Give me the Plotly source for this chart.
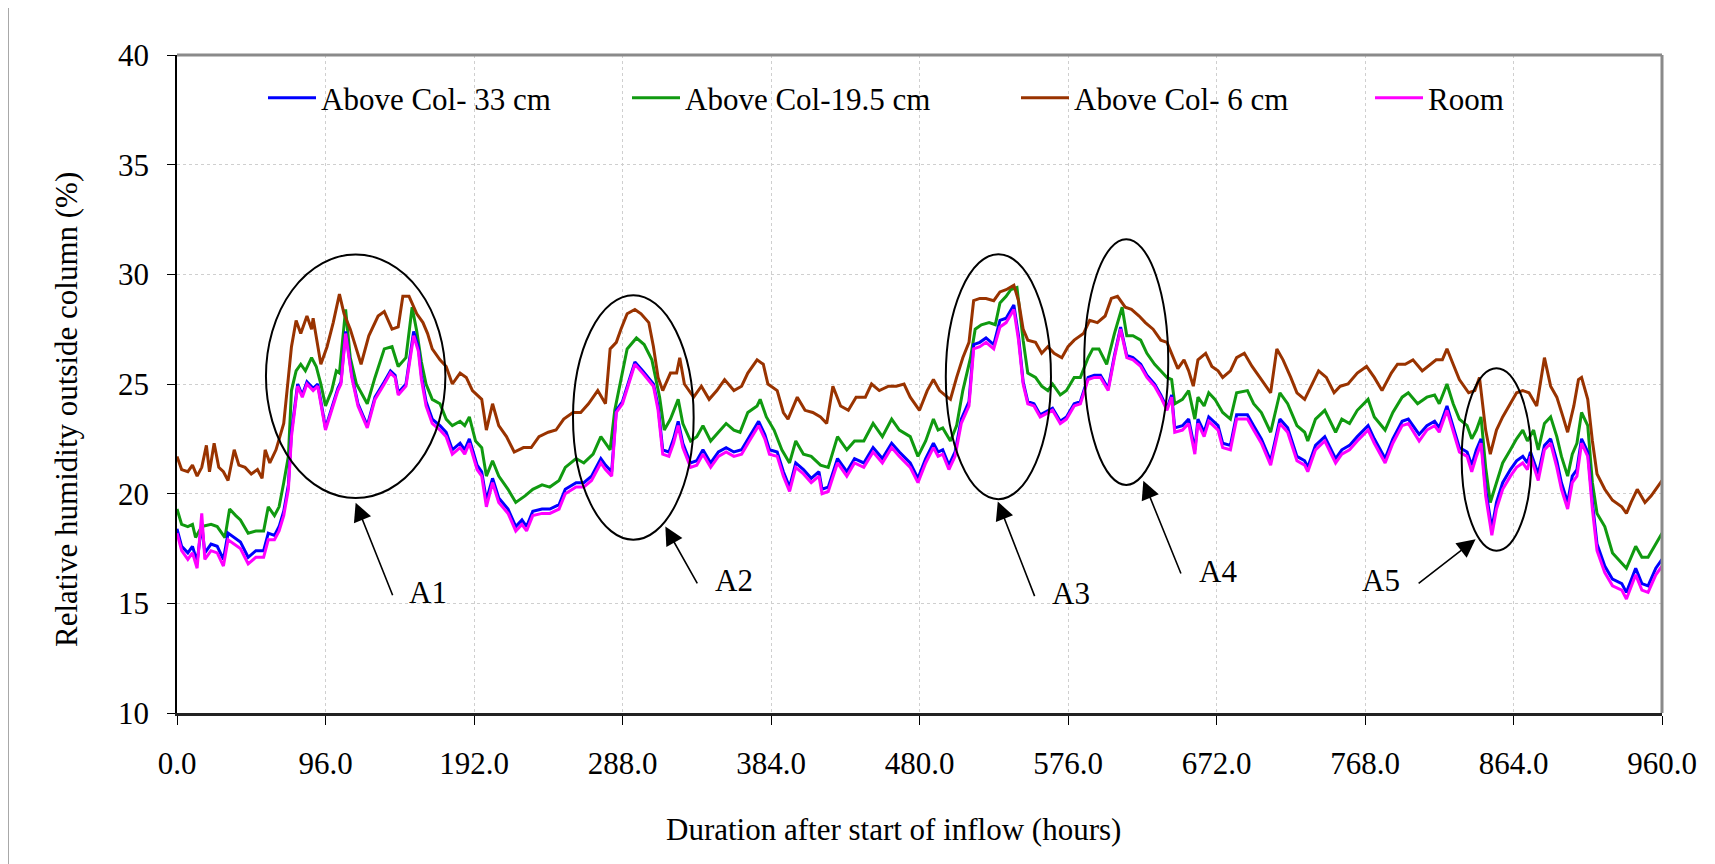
import plotly.graph_objects as go

# ---------------- data ----------------
room_hours = [0,3,7,10,13,16,18,22,26,30,
              33,37,41,46,51,56,59,63,66,69,
              72,74,78,81,84,88,91,94,96,100,
              104,106,109,113,117,123,128,134,138,141,
              143,148,153,156,158,161,165,170,174,178,
              183,186,189,194,197,200,204,208,214,219,
              223,226,230,236,241,247,251,258,263,268,
              274,277,281,284,288,292,296,301,308,311,
              314,318,321,324,327,332,336,340,345,350,
              355,360,365,370,376,380,383,388,392,396,
              400,405,410,415,417,421,427,433,438,444,
              450,456,462,467,474,479,484,489,492,495,
              499,503,507,512,515,519,523,528,532,536,
              541,544,547,550,554,558,563,566,571,575,
              580,584,589,593,597,602,606,610,614,618,
              623,627,632,636,640,643,645,650,654,658,
              660,664,667,673,676,681,685,692,696,701,
              707,713,718,724,729,731,736,742,749,753,
              758,763,770,774,781,786,792,796,803,808,
              813,816,821,825,829,834,837,840,843,846,
              850,853,857,862,866,870,873,875,880,884,
              888,892,895,899,902,905,908,912,915,918,
              923,928,934,937,943,947,951,956,960]
room_rh = [18.2,17.4,17.0,17.3,16.6,19.1,17.0,17.4,17.3,16.7,
           17.9,17.7,17.5,16.8,17.1,17.1,17.9,17.9,18.3,19.0,
           20.2,22.6,24.9,24.4,25.0,24.7,24.9,23.7,22.9,23.8,
           24.7,25.0,27.3,25.3,24.0,23.0,24.3,25.0,25.5,25.3,
           24.5,24.9,27.2,26.5,25.2,24.0,23.2,22.9,22.6,21.8,
           22.1,21.8,22.3,21.1,20.8,19.4,20.5,19.6,19.1,18.3,
           18.6,18.3,19.0,19.1,19.1,19.3,20.0,20.3,20.3,20.6,
           21.4,21.1,20.8,23.7,24.1,25.0,25.9,25.5,24.9,23.8,
           21.8,21.7,22.3,23.1,22.1,21.2,21.3,21.8,21.2,21.7,
           21.9,21.7,21.8,22.4,23.1,22.5,21.8,21.7,20.8,20.1,
           21.2,20.9,20.5,20.8,20.0,20.1,21.4,20.8,21.4,21.2,
           21.9,21.4,22.1,21.7,21.2,20.5,21.4,22.1,21.7,21.8,
           21.1,21.7,23.2,24.0,26.6,26.7,26.9,26.6,27.6,27.8,
           28.4,27.0,25.0,24.1,24.0,23.5,23.7,23.8,23.2,23.4,
           24.0,24.1,25.2,25.3,25.3,24.7,26.2,27.5,26.2,26.1,
           25.8,25.3,24.9,24.4,23.8,24.4,22.8,22.9,23.2,21.8,
           23.2,22.6,23.3,22.9,22.1,22.0,23.4,23.4,22.9,22.3,
           21.3,23.2,22.8,21.5,21.3,21.0,22.0,22.4,21.4,21.8,
           22.0,22.4,22.9,22.3,21.4,22.3,23.1,23.2,22.4,22.9,
           23.1,22.8,23.8,22.9,21.9,21.7,21.0,21.7,22.3,19.9,
           18.1,19.3,20.2,20.8,21.2,21.4,21.1,21.7,20.6,22.0,
           22.3,21.2,20.2,19.3,20.5,20.8,22.3,21.7,19.3,17.4,
           16.4,15.8,15.6,15.2,16.3,15.6,15.5,16.3,16.7]

col33_hours = room_hours
col33_rh = [18.4,17.6,17.3,17.6,16.9,18.6,17.3,17.7,17.6,17.0,
            18.2,18.0,17.8,17.1,17.4,17.4,18.2,18.1,18.5,19.2,
            20.4,22.8,25.0,24.5,25.1,24.8,25.0,23.8,23.0,23.9,
            24.8,25.1,27.4,25.4,24.1,23.1,24.4,25.1,25.6,25.4,
            24.6,25.0,27.4,26.7,25.4,24.2,23.4,23.1,22.8,22.0,
            22.3,22.0,22.5,21.3,21.0,19.7,20.7,19.8,19.3,18.5,
            18.8,18.5,19.2,19.3,19.3,19.5,20.2,20.5,20.5,20.8,
            21.6,21.3,21.0,23.8,24.2,25.1,26.0,25.6,25.0,24.0,
            22.0,21.9,22.5,23.3,22.3,21.4,21.5,22.0,21.4,21.9,
            22.1,21.9,22.0,22.6,23.3,22.7,22.0,21.9,21.0,20.3,
            21.4,21.1,20.7,21.0,20.2,20.3,21.6,21.0,21.6,21.4,
            22.1,21.6,22.3,21.9,21.4,20.7,21.6,22.3,21.9,22.0,
            21.3,21.9,23.4,24.2,26.8,26.9,27.1,26.8,27.9,28.0,
            28.6,27.2,25.1,24.2,24.1,23.6,23.8,23.9,23.3,23.5,
            24.1,24.2,25.3,25.4,25.4,24.8,26.3,27.6,26.3,26.2,
            25.9,25.4,25.0,24.5,23.9,24.5,23.0,23.1,23.4,22.0,
            23.4,22.8,23.5,23.1,22.3,22.2,23.6,23.6,23.1,22.5,
            21.5,23.4,23.0,21.7,21.5,21.2,22.2,22.6,21.6,22.0,
            22.2,22.6,23.1,22.5,21.6,22.5,23.3,23.4,22.7,23.1,
            23.3,23.0,24.0,23.1,22.1,21.9,21.3,22.0,22.5,20.2,
            18.4,19.6,20.5,21.1,21.5,21.7,21.4,21.9,20.9,22.2,
            22.5,21.5,20.5,19.6,20.8,21.1,22.5,21.9,19.6,17.7,
            16.7,16.1,15.9,15.5,16.6,15.9,15.8,16.6,17.0]

col195_hours = [0,3,7,10,12,16,22,26,31,34,
                38,41,46,51,56,59,63,66,69,72,
                74,77,80,83,87,90,93,96,100,103,
                105,109,112,116,123,128,134,139,143,148,
                152,155,158,161,165,170,174,178,183,186,
                189,193,197,200,204,208,214,219,225,230,
                236,241,247,251,258,263,269,274,277,280,
                283,287,291,297,302,307,312,315,319,324,
                327,332,336,340,345,350,355,360,364,369,
                375,377,381,386,391,396,400,405,410,416,
                421,427,433,438,444,450,456,462,467,474,
                479,484,489,492,495,500,504,508,513,516,
                520,525,529,532,536,539,543,547,550,555,
                559,563,566,571,575,580,584,589,592,596,
                601,606,611,614,618,623,627,632,636,640,
                643,645,650,654,658,660,664,667,671,676,
                681,685,692,696,701,707,713,718,724,729,
                731,736,742,749,753,758,763,770,774,781,
                786,792,796,802,808,813,816,821,825,829,
                834,837,840,843,846,849,853,857,862,866,
                870,873,877,880,884,888,892,895,899,902,
                905,908,912,915,918,923,928,934,937,943,
                947,951,956,960]
col195_rh = [19.3,18.6,18.5,18.6,18.0,18.5,18.6,18.5,18.0,19.3,
             19.0,18.8,18.2,18.3,18.3,19.4,19.0,19.4,20.5,21.7,
             24.7,25.6,25.9,25.6,26.2,25.8,25.0,24.0,24.7,25.6,
             25.5,28.4,26.2,25.0,24.1,25.3,26.6,26.7,25.8,26.2,
             28.5,27.4,26.0,25.0,24.3,24.1,23.4,23.1,23.3,23.1,
             23.5,22.4,22.1,20.8,21.5,20.8,20.2,19.6,19.9,20.2,
             20.4,20.3,20.6,21.2,21.6,21.4,21.8,22.6,22.3,22.0,
             23.8,25.2,26.6,27.1,26.8,26.1,24.4,22.9,23.4,24.3,
             23.2,22.4,22.6,23.1,22.4,22.8,23.2,22.9,22.8,23.7,
             24.0,24.3,23.5,22.9,22.0,21.4,22.4,21.8,21.7,21.3,
             21.2,22.6,22.0,22.4,22.4,23.2,22.6,23.4,22.9,22.6,
             21.7,22.4,23.4,22.9,23.0,22.4,23.1,24.7,26.2,27.5,
             27.7,27.8,27.7,28.7,29.0,29.3,29.4,27.0,25.5,25.3,
             24.9,24.7,25.0,24.5,24.7,25.3,25.3,26.2,26.6,26.6,
             25.9,27.3,28.5,27.2,27.2,27.0,26.4,25.9,25.6,25.3,
             25.2,24.1,24.3,24.7,23.4,24.4,24.0,24.6,24.3,23.7,
             23.4,24.6,24.7,24.1,23.7,22.8,24.6,24.1,23.1,22.8,
             22.4,23.4,23.8,22.8,23.4,23.2,23.8,24.3,23.5,22.9,
             23.7,24.4,24.6,24.1,24.4,24.5,24.1,25.0,24.1,23.4,
             23.1,22.5,22.9,23.5,21.2,19.6,20.5,21.4,22.0,22.5,
             22.9,22.4,22.9,22.0,23.2,23.5,22.6,21.7,20.8,21.8,
             22.3,23.7,23.1,20.5,19.1,18.5,17.3,16.8,16.6,17.6,
             17.1,17.1,17.7,18.2]

col6_hours = [0,3,7,10,13,16,19,21,24,27,
              30,33,37,40,44,48,52,55,57,60,
              64,69,72,74,77,80,84,87,88,91,
              93,97,101,105,108,112,116,119,124,130,
              134,139,143,146,150,155,159,162,165,170,
              174,178,183,187,191,197,200,204,208,213,
              218,224,229,234,240,245,250,256,261,266,
              272,277,280,284,287,291,296,300,305,308,
              311,314,319,323,325,328,334,339,344,349,
              354,360,365,369,375,379,382,388,392,395,
              401,406,411,416,420,424,429,434,439,445,
              449,454,460,465,470,474,480,485,489,493,
              498,500,504,508,512,515,519,523,528,532,
              536,541,544,547,550,555,559,563,567,572,
              576,580,586,590,595,600,604,608,613,617,
              622,626,631,636,640,644,647,651,654,657,
              660,665,669,673,676,681,685,690,695,700,
              707,711,715,720,724,729,734,738,743,748,
              752,757,763,769,774,779,785,789,794,799,
              805,810,814,818,821,825,829,835,839,842,
              846,849,853,857,862,866,870,874,879,882,
              884,888,892,896,899,903,906,908,912,915,
              918,923,928,934,937,940,944,949,953,957,960]
col6_rh = [21.7,21.1,21.0,21.3,20.8,21.2,22.2,21.0,22.3,21.2,
           21.0,20.6,22.0,21.3,21.2,20.9,21.1,20.7,22.0,21.4,
           22.0,23.2,25.3,26.7,27.9,27.3,28.1,27.5,28.0,26.7,
           25.9,26.7,27.8,29.1,28.2,27.5,26.6,25.9,27.2,28.1,
           28.3,27.5,27.6,29.0,29.0,28.2,27.8,27.3,26.6,26.1,
           25.8,25.0,25.5,25.3,24.7,24.3,22.9,24.1,23.1,22.6,
           21.9,22.1,22.1,22.6,22.8,22.9,23.4,23.7,23.7,24.1,
           24.7,24.1,26.6,26.9,27.5,28.2,28.4,28.2,27.8,26.7,
           25.3,24.7,25.5,25.5,26.2,25.0,24.4,24.9,24.3,24.7,
           25.2,24.7,24.9,25.5,26.1,25.9,25.0,24.7,23.7,23.4,
           24.4,23.8,23.7,23.5,23.2,24.9,24.0,23.8,24.4,24.4,
           25.0,24.7,24.9,24.9,25.0,24.4,23.8,24.7,25.2,24.7,
           24.4,24.3,25.3,26.2,26.9,28.8,28.9,28.9,28.8,29.2,
           29.3,29.5,28.8,27.5,27.0,26.9,26.4,26.7,26.4,26.2,
           26.7,27.0,27.3,27.9,27.8,28.1,28.9,29.0,28.5,28.4,
           28.1,27.8,27.5,27.0,26.9,26.2,25.7,26.1,25.6,24.9,
           26.1,26.4,25.8,25.6,25.3,25.6,26.2,26.4,25.8,25.3,
           24.6,26.6,26.1,25.3,24.6,24.3,25.0,25.6,25.3,24.6,
           24.9,25.0,25.5,25.8,25.3,24.7,25.5,25.9,25.9,26.1,
           25.6,25.9,26.1,26.1,26.6,25.9,25.2,24.6,24.7,25.3,
           22.9,21.8,22.9,23.5,24.1,24.6,24.7,24.6,24.0,25.3,
           26.2,24.9,24.4,23.5,22.8,24.0,25.2,25.3,24.3,22.4,
           20.9,20.2,19.7,19.4,19.1,19.6,20.2,19.6,19.9,20.3,20.6]

series_names = ["Above Col- 33 cm", "Above Col-19.5 cm", "Above Col- 6 cm", "Room"]
series_colors = ["#0000FF", "#109A10", "#993300", "#FF00FF"]
x_ticks = [0, 96, 192, 288, 384, 480, 576, 672, 768, 864, 960]
x_tick_labels = ["0.0", "96.0", "192.0", "288.0", "384.0", "480.0",
                 "576.0", "672.0", "768.0", "864.0", "960.0"]
y_ticks = [10, 15, 20, 25, 30, 35, 40]

# ---------------- figure ----------------
FONT = "Liberation Serif, Times New Roman, serif"
OFF = 8                      # page body margin of the html page
W, H = 1715 - OFF, 864 - OFF
L, R, T, B = 177 - OFF, 53, 55 - OFF, 151
PW, PH = W - L - R, H - T - B

def px2paper(px, py):
    """screen pixel -> paper coordinates"""
    return (px - OFF - L) / PW, (H - B - (py - OFF)) / PH

fig = go.Figure()
data = [(col33_hours, col33_rh), (col195_hours, col195_rh),
        (col6_hours, col6_rh), (room_hours, room_rh)]
legend_px = [263, 627, 1016, 1370]
legend_ids = ["legend", "legend2", "legend3", "legend4"]
draw_order = [1, 2, 0, 3]
for i in draw_order:
    hx, hy = data[i]
    fig.add_trace(go.Scatter(
        x=hx, y=hy, mode="lines", name=series_names[i],
        line=dict(color=series_colors[i], width=3),
        legend=legend_ids[i], showlegend=True))

legend_layout = {}
for i, lid in enumerate(legend_ids):
    lx, ly = px2paper(legend_px[i], 98)
    legend_layout[lid] = dict(
        x=lx, y=ly, xanchor="left", yanchor="middle",
        orientation="h", bgcolor="rgba(0,0,0,0)", borderwidth=0,
        itemwidth=48, font=dict(family=FONT, size=31, color="black"))

# ellipses (data coordinates)
ellipses = [(57.5, 173.5, 19.8, 30.9), (256, 334, 17.9, 29.05),
            (497, 565, 19.75, 30.92), (586.5, 640.8, 20.4, 31.6),
            (830.5, 875.5, 17.4, 25.72)]
shapes = []
for x0, x1, y0, y1 in ellipses:
    shapes.append(dict(type="circle", xref="x", yref="y", x0=x0, x1=x1,
                       y0=y0, y1=y1, line=dict(color="black", width=2),
                       layer="above"))
# plot-area top/right border (grey)
shapes.append(dict(type="line", xref="paper", yref="paper", x0=0, x1=1, y0=1, y1=1,
                   line=dict(color="#8a8a8a", width=3)))
shapes.append(dict(type="line", xref="paper", yref="paper", x0=1, x1=1, y0=0, y1=1,
                   line=dict(color="#8a8a8a", width=3)))
# outer chart frame
fx0, fy0 = px2paper(8, 5)
fx1, fy1 = px2paper(1716, 868)
shapes.append(dict(type="rect", xref="paper", yref="paper", x0=fx0, x1=fx1,
                   y0=fy1, y1=fy0, line=dict(color="#8c8c8c", width=1.5)))

# arrows: (head_x, head_y, tail_x, tail_y) in data units
arrows = [(115.5, 19.59, 139.8, 15.30), (315.7, 18.50, 336.9, 15.84),
          (530.6, 19.64, 554.8, 15.26), (624.7, 20.59, 649.4, 16.29),
          (839.5, 17.92, 801.7, 15.86)]
labels = [("A1", 162.3, 15.50), ("A2", 360.1, 16.02), ("A3", 578.2, 15.47),
          ("A4", 672.9, 16.44), ("A5", 778.5, 16.02)]
annotations = []
for hx, hy, tx, ty in arrows:
    annotations.append(dict(x=hx, y=hy, ax=tx, ay=ty, xref="x", yref="y",
                            axref="x", ayref="y", text="", showarrow=True,
                            arrowhead=2, arrowsize=2.3, arrowwidth=1.6,
                            arrowcolor="black", standoff=0, startstandoff=0))
for txt, lx, ly in labels:
    annotations.append(dict(x=lx, y=ly, xref="x", yref="y", text=txt,
                            showarrow=False, font=dict(family=FONT, size=31, color="black"),
                            xanchor="center", yanchor="middle"))
# axis titles
tx, ty = px2paper(893, 829)
annotations.append(dict(x=tx, y=ty, xref="paper", yref="paper",
                        text="Duration after start of inflow (hours)", showarrow=False,
                        font=dict(family=FONT, size=31, color="black"),
                        xanchor="center", yanchor="middle"))
tx, ty = px2paper(66, 410)
annotations.append(dict(x=tx, y=ty, xref="paper", yref="paper",
                        text="Relative humidity outside column (%)", showarrow=False,
                        textangle=-90, font=dict(family=FONT, size=31, color="black"),
                        xanchor="center", yanchor="middle"))

fig.update_layout(
    width=W, height=H,
    margin=dict(l=L, r=R, t=T, b=B, pad=0),
    paper_bgcolor="white", plot_bgcolor="white",
    font=dict(family=FONT, size=31, color="black"),
    shapes=shapes, annotations=annotations,
    **legend_layout,
    xaxis=dict(range=[0, 960], tickmode="array", tickvals=x_ticks, ticktext=x_tick_labels,
               showgrid=True, gridcolor="#cfcfcf", griddash="dot", gridwidth=1,
               showline=True, linecolor="#222222", linewidth=2.5,
               ticks="outside", ticklen=9, tickwidth=1, tickcolor="black",
               ticklabelstandoff=12, zeroline=False,
               tickfont=dict(family=FONT, size=31, color="black")),
    yaxis=dict(range=[10, 40], tickmode="array", tickvals=y_ticks,
               showgrid=True, gridcolor="#cfcfcf", griddash="dot", gridwidth=1,
               showline=True, linecolor="black", linewidth=1.5,
               ticks="outside", ticklen=8, tickwidth=1, tickcolor="black",
               ticklabelstandoff=12, zeroline=False,
               tickfont=dict(family=FONT, size=31, color="black")),
)

fig.write_html("out.html")
